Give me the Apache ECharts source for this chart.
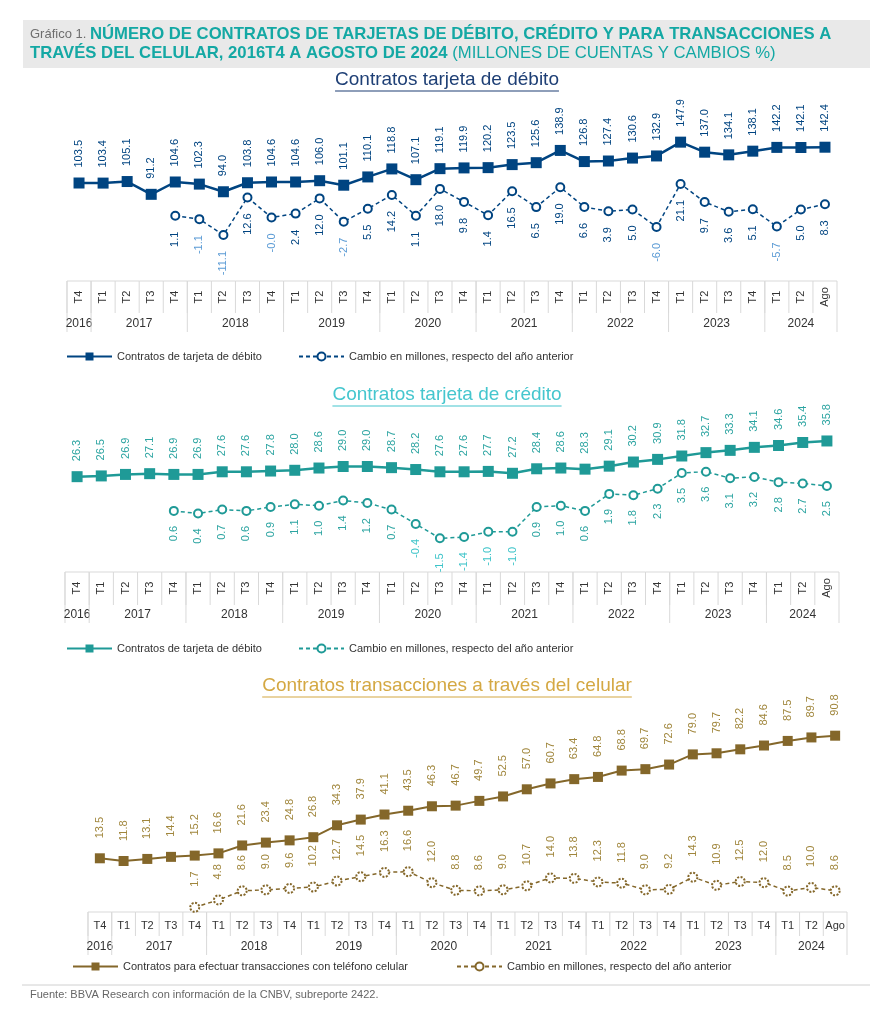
<!DOCTYPE html>
<html><head><meta charset="utf-8">
<script src="https://cdn.jsdelivr.net/npm/echarts/dist/echarts.min.js"></script>
<style>html,body{margin:0;padding:0;background:#fff}#c{width:895px;height:1024px}</style>
</head><body><div id="c"></div>
<script>
// ---------------- DATA ----------------
const quarters = ['T4','T1','T2','T3','T4','T1','T2','T3','T4','T1','T2','T3','T4','T1','T2','T3','T4','T1','T2','T3','T4','T1','T2','T3','T4','T1','T2','T3','T4','T1','T2','Ago'];
const years = ['2016','2017','2018','2019','2020','2021','2022','2023','2024'];
const quartersPerYear = [1,4,4,4,4,4,4,4,3];

const debitContracts = [103.5,103.4,105.1,91.2,104.6,102.3,94.0,103.8,104.6,104.6,106.0,101.1,110.1,118.8,107.1,119.1,119.9,120.2,123.5,125.6,138.9,126.8,127.4,130.6,132.9,147.9,137.0,134.1,138.1,142.2,142.1,142.4];
const debitChange = [null,null,null,null,1.1,-1.1,-11.1,12.6,-0.04,2.4,12.0,-2.7,5.5,14.2,1.1,18.0,9.8,1.4,16.5,6.5,19.0,6.6,3.9,5.0,-6.0,21.1,9.7,3.6,5.1,-5.7,5.0,8.3];

const creditContracts = [26.3,26.5,26.9,27.1,26.9,26.9,27.6,27.6,27.8,28.0,28.6,29.0,29.0,28.7,28.2,27.6,27.6,27.7,27.2,28.4,28.6,28.3,29.1,30.2,30.9,31.8,32.7,33.3,34.1,34.6,35.4,35.8];
const creditChange = [null,null,null,null,0.6,0.4,0.7,0.6,0.9,1.1,1.0,1.4,1.2,0.7,-0.4,-1.5,-1.4,-1.0,-1.0,0.9,1.0,0.6,1.9,1.8,2.3,3.5,3.6,3.1,3.2,2.8,2.7,2.5];

const cellContracts = [13.5,11.8,13.1,14.4,15.2,16.6,21.6,23.4,24.8,26.8,34.3,37.9,41.1,43.5,46.3,46.7,49.7,52.5,57.0,60.7,63.4,64.8,68.8,69.7,72.6,79.0,79.7,82.2,84.6,87.5,89.7,90.8];
const cellChange = [null,null,null,null,1.7,4.8,8.6,9.0,9.6,10.2,12.7,14.5,16.3,16.6,12.0,8.8,8.6,9.0,10.7,14.0,13.8,12.3,11.8,9.0,9.2,14.3,10.9,12.5,12.0,8.5,10.0,8.6];

const nameDebit = 'Contratos de tarjeta de débito';
const nameChange = 'Cambio en millones, respecto del año anterior';
const nameCell = 'Contratos para efectuar transacciones con teléfono celular';

// ---------------- STYLE ----------------
const F = '"Liberation Sans", Arial, sans-serif';
const NAVY = '#004481', NAVY_L = '#5B9BD5';
const TEAL = '#1F9A97', TEAL_LBL = '#2BA4A1', TEAL_L = '#3DC4C9';
const GOLD = '#84672A', GOLD_LBL = '#A0863C';
const GRIDLINE = '#D9D9D9';

const chart = echarts.init(document.getElementById('c'), null, {renderer: 'canvas'});

function yearGroups() {
  let s = 0;
  return years.map((y, k) => { const g = [s, s + quartersPerYear[k] - 1, k]; s += quartersPerYear[k]; return g; });
}

function tableSeries(ai, yi, o) {
  return [
    {
      type: 'custom', coordinateSystem: 'cartesian2d', xAxisIndex: ai, yAxisIndex: yi, silent: true,
      data: quarters.map((q, i) => [i, 0]),
      renderItem(params, api) {
        const i = api.value(0), cs = params.coordSys;
        const x = api.coord([i, 0])[0], bw = api.size([1, 0])[0], top = cs.y;
        const ch = [
          {type: 'line', shape: {x1: x - bw / 2, y1: top, x2: x + bw / 2, y2: top}, style: {stroke: GRIDLINE, lineWidth: 1}},
          {type: 'line', shape: {x1: x - bw / 2, y1: top, x2: x - bw / 2, y2: top + o.qRowH}, style: {stroke: GRIDLINE, lineWidth: 1}},
          {type: 'text', x: x, y: top + o.qLabelY, rotation: o.rotate ? Math.PI / 2 : 0,
            style: {text: quarters[i], fill: '#333', font: '11px ' + F, align: 'center', verticalAlign: 'middle', textAlign: 'center', textVerticalAlign: 'middle'}}
        ];
        if (i === quarters.length - 1) {
          ch.push({type: 'line', shape: {x1: x + bw / 2, y1: top, x2: x + bw / 2, y2: top + cs.height}, style: {stroke: GRIDLINE, lineWidth: 1}});
        }
        return {type: 'group', children: ch};
      }
    },
    {
      type: 'custom', coordinateSystem: 'cartesian2d', xAxisIndex: ai, yAxisIndex: yi, silent: true,
      data: yearGroups(),
      renderItem(params, api) {
        const s = api.value(0), e = api.value(1), k = api.value(2), cs = params.coordSys;
        const xs = api.coord([s, 0])[0], xe = api.coord([e, 0])[0], bw = api.size([1, 0])[0], top = cs.y;
        return {type: 'group', children: [
          {type: 'line', shape: {x1: xs - bw / 2, y1: top, x2: xs - bw / 2, y2: top + cs.height}, style: {stroke: GRIDLINE, lineWidth: 1}},
          {type: 'text', x: (xs + xe) / 2, y: top + o.yLabelY,
            style: {text: years[k], fill: '#333', font: '12px ' + F, align: 'center', verticalAlign: 'middle', textAlign: 'center', textVerticalAlign: 'middle'}}
        ]};
      }
    }
  ];
}

function richFmt(p) {
  const v = Array.isArray(p.value) ? p.value[1] : p.value;
  if (v == null || isNaN(v)) return '';
  return (v < 0 ? '{n|' : '{p|') + v.toFixed(1) + '}';
}

function levelSeries(name, data, xi, yi, color, lblColor, size, width, dist) {
  return {
    name, type: 'line', data, xAxisIndex: xi, yAxisIndex: yi,
    symbol: 'rect', symbolSize: size, color: color,
    lineStyle: {color: color, width: width}, itemStyle: {color: color},
    label: {show: true, position: 'top', distance: dist, rotate: 90, align: 'left', verticalAlign: 'middle',
      color: lblColor, fontSize: 11, fontFamily: F, formatter: p => p.value.toFixed(1)},
    z: 3
  };
}
function changeSeries(name, data, xi, yi, color, posColor, negColor, below, dist, size, dashedMarker) {
  return {
    name, type: 'line', data, xAxisIndex: xi, yAxisIndex: yi,
    symbol: 'emptyCircle', symbolSize: size, color: color, connectNulls: false,
    lineStyle: {color: color, width: 1.5, type: [4, 3]},
    itemStyle: {color: color, borderColor: color, borderWidth: 1.6, borderType: dashedMarker ? [2, 1.5] : 'solid'},
    label: {show: true, position: below ? 'bottom' : 'top', distance: dist, rotate: 90,
      align: below ? 'right' : 'left', verticalAlign: 'middle', fontSize: 11, fontFamily: F,
      formatter: richFmt,
      rich: {p: {color: posColor, fontSize: 11, fontFamily: F}, n: {color: negColor, fontSize: 11, fontFamily: F}}},
    z: 2
  };
}

function tw(t, font) {
  const c = document.createElement('canvas').getContext('2d');
  c.font = font; return c.measureText(t).width;
}
function subtitle(text, y, color) {
  const font = '19px ' + F;
  const w = tw(text, font);
  return [
    {type: 'text', x: 447, y: y, style: {text: text, fill: color, font: font, align: 'center', verticalAlign: 'middle', textAlign: 'center', textVerticalAlign: 'middle'}},
    {type: 'line', shape: {x1: 447 - w / 2, y1: y + 11, x2: 447 + w / 2, y2: y + 11}, style: {stroke: color, lineWidth: 1.2}}
  ];
}

const cat = (gi) => ({type: 'category', data: quarters, gridIndex: gi, show: false, boundaryGap: true});
const val = (gi, min, max) => ({type: 'value', gridIndex: gi, min, max, show: false, splitLine: {show: false}});

const legendBase = {orient: 'horizontal', itemWidth: 45, itemHeight: 10, itemGap: 0, padding: 0, selectedMode: false,
  textStyle: {fontSize: 11, color: '#333', fontFamily: F}};

const option = {
  animation: false,
  backgroundColor: '#fff',
  textStyle: {fontFamily: F},
  grid: [
    {left: 67, width: 770, top: 100, height: 180, outerBoundsMode: 'none'},
    {left: 67, width: 770, top: 281, height: 51, outerBoundsMode: 'none'},
    {left: 65, width: 774, top: 410, height: 158, outerBoundsMode: 'none'},
    {left: 65, width: 774, top: 572, height: 51, outerBoundsMode: 'none'},
    {left: 88, width: 759, top: 700, height: 210, outerBoundsMode: 'none'},
    {left: 88, width: 759, top: 912, height: 43, outerBoundsMode: 'none'}
  ],
  xAxis: [cat(0), cat(1), cat(2), cat(3), cat(4), cat(5)],
  yAxis: [
    val(0, -1.9, 193.7), val(0, -39.5, 74.1), val(1, 0, 1),
    val(2, 2.0, 44.04), val(2, -3.77, 8.32), val(3, 0, 1),
    val(4, -19.1, 113.3), val(4, 0.57, 88.4), val(5, 0, 1)
  ],
  legend: [
    Object.assign({}, legendBase, {left: 66, top: 351, data: [nameDebit]}),
    Object.assign({}, legendBase, {left: 298, top: 351, data: [nameChange]}),
    Object.assign({}, legendBase, {left: 66, top: 643, data: [nameDebit + '\u200b']}),
    Object.assign({}, legendBase, {left: 298, top: 643, data: [nameChange + '\u200b']}),
    Object.assign({}, legendBase, {left: 72, top: 961, data: [nameCell]}),
    Object.assign({}, legendBase, {left: 456, top: 961, data: [nameChange + '\u200b\u200b']})
  ],
  series: [
    levelSeries(nameDebit, debitContracts, 0, 0, NAVY, NAVY, 11, 2.5, 10),
    changeSeries(nameChange, debitChange, 0, 1, NAVY, NAVY, NAVY_L, true, 11, 8, false),
    ...tableSeries(1, 2, {rotate: true, qRowH: 32, qLabelY: 16, yLabelY: 43}),

    levelSeries(nameDebit + '\u200b', creditContracts, 2, 3, TEAL, TEAL_LBL, 11, 2.5, 10),
    changeSeries(nameChange + '\u200b', creditChange, 2, 4, TEAL, TEAL_LBL, TEAL_L, true, 10, 8, false),
    ...tableSeries(3, 5, {rotate: true, qRowH: 33, qLabelY: 16, yLabelY: 43}),

    levelSeries(nameCell, cellContracts, 4, 6, GOLD, GOLD_LBL, 10, 2, 15),
    changeSeries(nameChange + '\u200b\u200b', cellChange, 4, 7, GOLD, GOLD_LBL, GOLD_LBL, false, 15, 9, true),
    ...tableSeries(5, 8, {rotate: false, qRowH: 24, qLabelY: 14, yLabelY: 35})
  ],
  graphic: [
    {type: 'rect', shape: {x: 23, y: 20, width: 847, height: 48}, style: {fill: '#E9E9E9'}, z: -1},
    {type: 'text', x: 30, y: 25, style: {
      text: '{g|Gráfico 1. }{b|NÚMERO DE CONTRATOS DE TARJETAS DE DÉBITO, CRÉDITO Y PARA TRANSACCIONES A}\n{b|TRAVÉS DEL CELULAR, 2016T4 A AGOSTO DE 2024}{r| (MILLONES DE CUENTAS Y CAMBIOS %)}',
      rich: {
        g: {fill: '#6E6E6E', color: '#6E6E6E', fontSize: 13, fontFamily: F, lineHeight: 19},
        b: {fill: '#14A8A4', color: '#14A8A4', fontSize: 16.7, fontWeight: 'bold', fontFamily: F, lineHeight: 19},
        r: {fill: '#14A8A4', color: '#14A8A4', fontSize: 16.7, fontFamily: F, lineHeight: 19}
      }
    }},
    ...subtitle('Contratos tarjeta de débito', 80, '#1E3F75'),
    ...subtitle('Contratos tarjeta de crédito', 395, '#45C6CE'),
    ...subtitle('Contratos transacciones a través del celular', 686, '#D4A843'),
    {type: 'line', shape: {x1: 22, y1: 985, x2: 870, y2: 985}, style: {stroke: '#D0D0D0', lineWidth: 1}},
    {type: 'text', x: 30, y: 995, style: {text: 'Fuente: BBVA Research con información de la CNBV, subreporte 2422.', fill: '#666', font: '11px ' + F, verticalAlign: 'middle', textVerticalAlign: 'middle'}}
  ]
};
chart.setOption(option);
</script>
</body></html>
